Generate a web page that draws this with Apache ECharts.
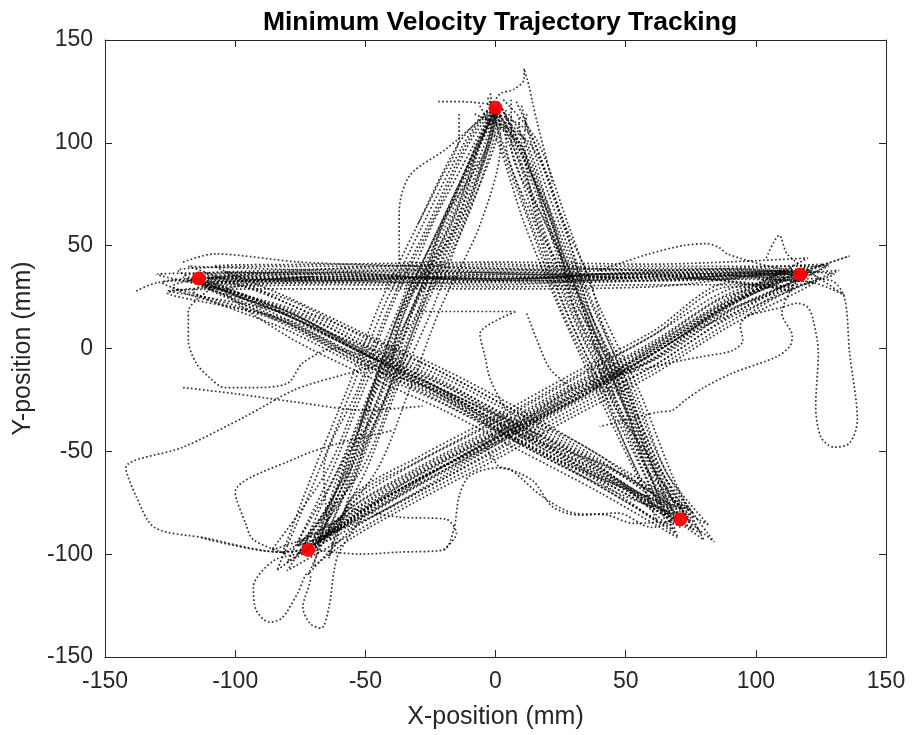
<!DOCTYPE html>
<html>
<head>
<meta charset="utf-8">
<script src="https://cdn.jsdelivr.net/npm/echarts@6/dist/echarts.min.js"></script>
<style>
  html, body { margin: 0; padding: 0; background: #fff; }
  #div-chart { width: 912px; height: 735px; }
</style>
</head>
<body>
<div id="div-chart"></div>
<script>
"use strict";

//
// Data (mm)
//
const axis_min = -150;
const axis_max = 150;
const axis_step = 50;

// star vertices (red targets)
const targets = [[0, 117], [117, 36], [-114, 34], [-72, -98], [71, -83]];

// full star traces: top -> bottom right -> left -> right -> bottom left -> top
const trial01 = [[4,116],[4,101],[15,61],[27,19],[42,-22],[57,-61],[66,-86],[40,-57],[11,-38],[-20,-16],[-49,1],[-80,19],[-108,30],[-60,33],[0,31],[60,35],[112,38],[90,25],[61,2],[30,-19],[-1,-41],[-30,-60],[-54,-78],[-66,-94],[-55,-61],[-41,-20],[-31,21],[-15,60],[-2,101],[1,118]];
const trial02 = [[-4,112],[13,100],[26,62],[36,19],[50,-18],[64,-60],[79,-90],[40,-64],[10,-46],[-20,-22],[-51,-8],[-80,12],[-124,30],[-60,39],[1,41],[60,38],[126,41],[90,16],[60,-9],[30,-27],[0,-49],[-31,-71],[-55,-87],[-80,-104],[-63,-60],[-51,-21],[-37,20],[-24,61],[-8,100],[-1,117]];
const trial03 = [[6,121],[6,99],[20,59],[30,21],[47,-20],[58,-58],[64,-76],[40,-54],[11,-33],[-20,-12],[-50,6],[-80,22],[-104,37],[-60,36],[0,34],[60,37],[110,33],[90,29],[60,6],[30,-15],[0,-36],[-31,-56],[-55,-75],[-64,-92],[-50,-60],[-38,-20],[-24,20],[-12,61],[0,100],[2,118]];
const trial04 = [[-6,118],[1,100],[11,61],[24,21],[39,-21],[54,-61],[61,-77],[40,-61],[10,-41],[-21,-21],[-50,-3],[-80,14],[-126,27],[-60,31],[0,30],[60,31],[106,31],[90,22],[60,-1],[30,-22],[0,-43],[-30,-64],[-55,-81],[-84,-108],[-68,-60],[-55,-19],[-43,20],[-28,60],[-12,100],[-3,116]];
const trial05 = [[3,121],[16,101],[28,60],[40,20],[55,-20],[68,-62],[80,-93],[40,-59],[10,-39],[-20,-18],[-50,-2],[-80,17],[-126,28],[-60,29],[0,29],[60,30],[128,41],[90,13],[60,-11],[30,-31],[0,-52],[-30,-72],[-55,-90],[-80,-108],[-57,-60],[-44,-20],[-32,20],[-17,60],[-4,100],[1,118]];
const trial06 = [[9,112],[10,100],[21,59],[33,20],[48,-19],[62,-61],[74,-78],[40,-52],[10,-30],[-20,-10],[-50,7],[-80,25],[-108,40],[-60,41],[0,42],[60,41],[120,44],[90,23],[60,-1],[30,-21],[0,-42],[-30,-62],[-55,-80],[-76,-94],[-61,-60],[-48,-20],[-36,20],[-21,60],[-7,100],[0,118]];
const trial07 = [[-3,122],[5,100],[16,60],[28,20],[43,-20],[57,-60],[68,-88],[40,-67],[10,-47],[-20,-27],[-50,-10],[-80,9],[-116,28],[-60,35],[0,34],[60,36],[114,28],[90,32],[60,8],[30,-12],[0,-33],[-30,-53],[-55,-72],[-64,-102],[-53,-60],[-40,-20],[-28,20],[-13,60],[-2,100],[1,117]];
const trial08 = [[10,118],[14,99],[25,59],[37,21],[52,-20],[66,-61],[82,-86],[40,-56],[10,-36],[-20,-17],[-50,1],[-80,20],[-130,36],[-60,37],[0,37],[60,38],[130,36],[90,19],[60,-5],[30,-25],[0,-46],[-30,-66],[-55,-84],[-86,-98],[-65,-60],[-52,-20],[-40,20],[-25,60],[-10,100],[-1,116]];
const trial09 = [[0,116],[6,101],[17,61],[29,19],[44,-21],[58,-59],[70,-82],[40,-62],[10,-42],[-20,-22],[-50,-5],[-80,14],[-114,34],[-60,34],[0,34],[60,35],[117,36],[90,27],[60,3],[30,-17],[0,-38],[-30,-58],[-55,-77],[-70,-98],[-46,-60],[-33,-20],[-21,20],[-6,60],[2,100],[1,118]];
const trial10 = [[12,114],[11,101],[22,60],[34,20],[49,-21],[63,-59],[76,-80],[40,-55],[10,-34],[-20,-14],[-50,3],[-80,22],[-118,40],[-60,38],[0,38],[60,39],[124,34],[90,11],[60,-13],[30,-33],[0,-54],[-30,-74],[-55,-92],[-70,-106],[-59,-60],[-46,-20],[-34,20],[-19,60],[-6,100],[0,117]];
const trial11 = [[-2,119],[3,99],[14,60],[26,21],[41,-20],[55,-61],[67,-81],[40,-60],[10,-40],[-20,-20],[-50,-3],[-80,16],[-113,35],[-60,36],[0,36],[60,36],[117,37],[90,21],[60,-3],[30,-23],[0,-44],[-30,-64],[-55,-82],[-72,-98],[-56,-60],[-43,-20],[-31,20],[-16,60],[-3,100],[0,117]];
const trial12 = [[-8,114],[9,100],[20,61],[32,20],[47,-20],[61,-60],[70,-92],[40,-70],[10,-50],[-20,-30],[-50,-13],[-80,6],[-104,28],[-60,32],[0,32],[60,33],[110,38],[90,24],[60,0],[30,-20],[0,-41],[-30,-61],[-55,-79],[-82,-100],[-70,-60],[-57,-20],[-45,20],[-30,60],[-14,100],[-2,117]];
const trial13 = [[5,110],[12,100],[23,59],[35,21],[50,-20],[64,-60],[76,-88],[40,-58],[10,-38],[-20,-18],[-50,-1],[-80,18],[-112,30],[-60,34],[0,34],[60,34],[122,32],[90,26],[60,2],[30,-18],[0,-39],[-30,-59],[-55,-77],[-68,-92],[-60,-60],[-47,-20],[-35,20],[-20,60],[-7,100],[0,117]];
const trial14 = [[-2,124],[2,100],[13,61],[25,20],[40,-20],[54,-59],[62,-84],[40,-65],[10,-45],[-20,-25],[-50,-8],[-80,11],[-122,38],[-60,40],[0,40],[60,40],[128,40],[90,18],[60,-6],[30,-26],[0,-47],[-30,-67],[-55,-85],[-76,-96],[-52,-60],[-39,-20],[-27,20],[-12,60],[-1,100],[1,119]];
const trial15 = [[8,120],[15,100],[26,60],[38,20],[53,-19],[66,-61],[84,-94],[40,-52],[10,-32],[-20,-12],[-50,5],[-80,24],[-110,34],[-60,33],[0,33],[60,33],[132,38],[90,15],[60,-9],[30,-29],[0,-50],[-30,-70],[-55,-88],[-72,-110],[-54,-60],[-41,-20],[-29,20],[-14,60],[-2,100],[0,116]];
const trial16 = [[2,113],[7,101],[18,60],[30,19],[45,-21],[59,-60],[72,-78],[40,-63],[10,-43],[-20,-23],[-50,-6],[-80,13],[-128,32],[-60,35],[0,35],[60,35],[114,30],[90,30],[60,6],[30,-14],[0,-35],[-30,-55],[-55,-73],[-62,-96],[-66,-60],[-53,-20],[-41,20],[-26,60],[-11,100],[-1,118]];
const trial17 = [[3,115],[9,98],[22,62],[30,24],[49,-16],[60,-57],[73,-81],[44,-58],[12,-43],[-18,-22],[-46,-2],[-84,18],[-116,35],[-64,37],[-4,33],[58,37],[119,35],[92,20],[62,-5],[28,-21],[-2,-46],[-28,-62],[-58,-85],[-74,-97],[-60,-58],[-42,-22],[-36,18],[-16,58],[-6,98],[1,116]];
const trial18 = [[-3,119],[5,103],[18,64],[33,22],[44,-24],[62,-58],[72,-86],[38,-62],[8,-38],[-22,-19],[-48,-4],[-78,15],[-113,32],[-56,33],[4,36],[64,34],[117,37],[88,22],[58,-1],[32,-24],[2,-42],[-32,-66],[-52,-80],[-70,-99],[-58,-64],[-47,-18],[-31,22],[-20,62],[-4,96],[-1,118]];
const trial19 = [[1,120],[10,97],[17,58],[35,18],[45,-22],[63,-63],[75,-84],[42,-61],[8,-41],[-24,-18],[-52,0],[-82,19],[-117,34],[-62,35],[2,37],[62,36],[116,37],[86,19],[62,-4],[28,-24],[-2,-43],[-32,-63],[-56,-83],[-73,-98],[-54,-62],[-46,-18],[-30,18],[-21,58],[-5,102],[0,117]];
const trial20 = [[0,117],[7,102],[21,63],[31,17],[46,-18],[59,-62],[69,-83],[40,-58],[12,-39],[-19,-21],[-51,-2],[-78,17],[-114,34],[-58,34],[-2,35],[58,35],[118,36],[91,22],[59,-2],[31,-22],[1,-45],[-29,-63],[-54,-81],[-72,-98],[-57,-58],[-44,-21],[-34,21],[-17,61],[-6,99],[0,117]];
const trial21 = [[5,114],[10,104],[17,80],[24,58],[33,30],[38,12],[47,-14],[55,-38],[62,-62],[71,-87],[50,-69],[24,-54],[2,-40],[-26,-19],[-45,-6],[-70,10],[-96,26],[-118,33],[-80,36],[-30,38],[20,36],[70,37],[121,38],[98,26],[70,5],[44,-14],[16,-33],[-14,-53],[-42,-74],[-76,-100],[-62,-72],[-52,-38],[-44,-8],[-35,24],[-25,50],[-14,80],[-3,108],[2,118]];
const trial22 = [[-1,115],[12,106],[20,84],[26,62],[36,34],[42,8],[52,-22],[58,-46],[66,-70],[74,-82],[54,-74],[30,-60],[6,-44],[-18,-26],[-40,-12],[-64,2],[-92,20],[-112,31],[-84,33],[-36,34],[14,33],[66,35],[116,34],[96,20],[72,6],[48,-12],[22,-30],[-6,-48],[-36,-68],[-70,-96],[-58,-68],[-50,-34],[-40,-4],[-32,20],[-20,54],[-12,78],[-6,100],[0,116]];
const trial23 = [[2,118],[6,108],[14,88],[20,66],[26,46],[34,18],[40,-4],[50,-30],[58,-54],[68,-78],[44,-64],[20,-50],[-4,-34],[-28,-18],[-52,-2],[-76,14],[-100,26],[-120,35],[-84,38],[-40,39],[12,39],[64,38],[114,39],[94,24],[66,2],[40,-18],[14,-36],[-18,-58],[-46,-78],[-68,-94],[-60,-70],[-48,-40],[-38,-12],[-30,14],[-22,40],[-10,72],[-2,104],[1,119]];
const trial24 = [[-2,120],[8,100],[16,74],[23,52],[30,34],[40,2],[49,-24],[56,-50],[64,-76],[69,-90],[52,-76],[28,-58],[4,-42],[-24,-24],[-46,-10],[-72,8],[-98,22],[-110,29],[-80,32],[-34,32],[18,33],[68,33],[111,35],[90,22],[64,0],[38,-20],[12,-38],[-20,-62],[-48,-82],[-76,-96],[-64,-76],[-54,-44],[-46,-14],[-38,14],[-28,42],[-16,74],[-8,96],[-1,116]];

// stray wanderings
const stray01 = [[-44,-8],[-62,-14],[-77,-20],[-96,-33],[-120,-48],[-142,-58],[-138,-72],[-131,-87],[-112,-92],[-82,-99],[-72,-98]];
const stray02 = [[-40,-40],[-60,-46],[-76,-53],[-100,-70],[-96,-85],[-93,-93],[-80,-100]];
const stray03 = [[-120,-19],[-100,-22],[-77,-26],[-50,-30],[-28,-28]];
const stray04 = [[-108,30],[-118,18],[-118,4],[-115,-7],[-110,-14],[-104,-19],[-94,-19],[-80,-17],[-74,-7],[-62,0],[-45,-6]];
const stray05 = [[-60,-82],[-72,-98],[-85,-103],[-93,-116],[-92,-127],[-87,-133],[-82,-131],[-76,-119],[-72,-109],[-71,-111],[-74,-126],[-71,-134],[-67,-136],[-64,-126],[-62,-108],[-60,-99],[-50,-80]];
const stray06 = [[-113,-92],[-83,-99],[-72,-98],[-52,-100],[-37,-99],[-20,-98],[-16,-88],[-14,-72],[-10,-62],[1,-58],[14,-64],[22,-77],[32,-81],[47,-80],[60,-87],[70,-83]];
const stray07 = [[-55,-78],[-37,-82],[-19,-83],[-15,-90],[-20,-98]];
const stray08 = [[-5,-45],[1,-57],[6,-59],[18,-72],[30,-80],[43,-81],[53,-85],[68,-84]];
const stray09 = [[100,30],[118,34],[129,33],[134,25],[136,-2],[139,-35],[136,-46],[130,-48],[125,-43],[123,-28],[124,-2],[122,14],[120,20],[116,22],[110,20],[96,16]];
const stray10 = [[117,36],[110,17],[114,6],[113,1],[108,-4],[91,-12],[80,-19],[73,-25],[68,-30],[62,-31],[40,-38]];
const stray11 = [[116,30],[94,11],[95,4],[91,-1],[79,-4],[67,-7],[50,-12]];
const stray12 = [[40,38],[59,46],[72,50],[81,51],[86,49],[89,46],[105,40],[118,37]];
const stray13 = [[98,36],[118,38],[136,45],[124,40],[116,36]];
const stray14 = [[104,44],[109,55],[112,46],[120,38],[134,26],[122,32],[100,34]];
const stray15 = [[-22,120],[-12,120],[-2,119],[2,124],[7,126],[11,131],[11,136],[13,127],[14,121],[16,110],[22,80]];
const stray16 = [[-37,43],[-37,66],[-33,84],[-19,97],[-6,111],[0,117]];
const stray17 = [[-138,28],[-130,32],[-118,33],[-100,33],[-70,35]];
const stray18 = [[-120,42],[-108,46],[-75,42],[-30,40],[20,38]];
const stray19 = [[-30,18],[-15,18],[8,18],[-6,7],[-4,-4],[-2,-15],[4,-30]];
const stray20 = [[12,17],[16,4],[21,-10],[30,-20]];
const stray21 = [[-14,114],[-14,103],[-22,80],[-30,60]];

const traces = [
  trial01, trial02, trial03, trial04, trial05, trial06, trial07, trial08,
  trial09, trial10, trial11, trial12, trial13, trial14, trial15, trial16,
  trial17, trial18, trial19, trial20, trial21, trial22, trial23, trial24,
  stray01, stray02, stray03, stray04, stray05, stray06, stray07,
  stray08, stray09, stray10, stray11, stray12, stray13, stray14,
  stray15, stray16, stray17, stray18, stray19, stray20, stray21,
];

const title_text = "Minimum Velocity Trajectory Tracking";
const x_name = "X-position (mm)";
const y_name = "Y-position (mm)";

//
// Chart
//
const font = "'Liberation Sans', Arial, Helvetica, sans-serif";
const ink = "#262626";

function make_axis(pos, show_labels, name) {
  return {
    type: "value",
    position: pos,
    min: axis_min,
    max: axis_max,
    interval: axis_step,
    name: name,
    nameLocation: "middle",
    nameGap: pos === "bottom" ? 48 : 62,
    nameTextStyle: { fontFamily: font, fontSize: 25, color: ink },
    axisLine: { show: true, onZero: false, lineStyle: { color: ink, width: 1 } },
    axisTick: { show: true, inside: true, length: 7, lineStyle: { color: ink } },
    axisLabel: {
      show: show_labels,
      fontFamily: font,
      fontSize: 23,
      color: ink,
      margin: pos === "bottom" ? 13 : 12,
    },
    splitLine: { show: false },
  };
}

const series = [];
for (const trace of traces) {
  series.push({
    type: "line",
    data: trace,
    showSymbol: false,
    smooth: 0.3,
    silent: true,
    z: 2,
    lineStyle: { color: "rgba(0,0,0,0.8)", width: 1.7, type: [1.7, 2.3] },
  });
}
// red targets sit on top of the traces
series.push({
  type: "scatter",
  data: targets,
  symbolSize: 14,
  itemStyle: { color: "#ff0000", opacity: 0.93 },
  silent: true,
  z: 3,
});

const chart = echarts.init(document.getElementById("div-chart"));
chart.setOption({
  animation: false,
  backgroundColor: "#ffffff",
  title: {
    text: title_text,
    left: 495,
    top: 4,
    textAlign: "center",
    textStyle: { fontFamily: font, fontSize: 26.5, fontWeight: "bold", color: "#000" },
  },
  grid: { left: 105, right: 26, top: 40, bottom: 78, outerBoundsMode: "none" },
  xAxis: [make_axis("bottom", true, x_name), make_axis("top", false, "")],
  yAxis: [make_axis("left", true, y_name), make_axis("right", false, "")],
  series: series,
});
</script>
</body>
</html>
